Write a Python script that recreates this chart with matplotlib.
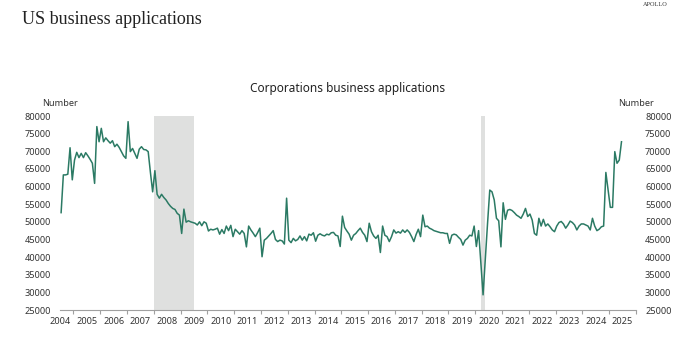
import matplotlib.pyplot as plt
import numpy as np

plt.rcParams['font.family'] = ['Noto Sans', 'DejaVu Sans']

# monthly values, corporations business applications (Jul 2004 - Jun 2025)
v2004 = [52600, 63300, 63300, 63500, 71000, 61900]
v2005 = [67500, 69700, 68200, 69400, 68200, 69600, 68700, 67700, 66600, 60900, 77000, 72700]
v2006 = [76500, 72700, 73800, 73000, 72300, 73000, 71300, 72000, 71100, 69900, 68700, 68000]
v2007 = [78400, 69900, 70800, 69400, 68000, 70600, 71300, 70500, 70400, 69900, 64000, 58500]
v2008 = [64500, 57800, 56700, 57800, 56900, 56200, 55200, 54400, 53800, 53500, 52400, 51900]
v2009 = [46700, 53600, 49900, 50300, 50000, 49800, 49600, 49100, 50000, 48900, 50000, 49600]
v2010 = [47400, 47900, 47700, 47900, 48200, 46500, 47800, 46700, 48800, 47500, 49000, 45800]
v2011 = [47900, 47200, 46500, 47500, 46700, 42900, 48800, 47700, 46800, 45800, 46900, 48200]
v2012 = [40100, 44800, 45300, 46000, 46700, 47500, 45000, 44400, 44800, 44600, 43700, 56700]
v2013 = [44800, 44100, 45300, 44600, 45000, 46000, 44800, 45800, 44600, 46500, 46200, 46900]
v2014 = [44500, 46200, 46600, 46200, 46000, 46500, 46300, 46900, 47000, 46200, 46000, 43000]
v2015 = [51600, 48400, 47400, 46500, 44800, 46200, 46700, 47500, 48200, 47000, 46200, 44400]
v2016 = [49600, 47200, 46000, 45300, 46200, 41300, 48800, 46200, 45800, 44400, 45800, 47700]
v2017 = [46800, 47200, 46800, 47700, 47000, 47700, 47000, 45800, 44400, 46400, 47900, 45800]
v2018 = [51900, 48600, 48800, 48200, 47900, 47500, 47300, 47100, 46900, 46900, 46700, 46700]
v2019 = [43900, 46200, 46500, 46300, 45600, 45000, 43400, 44800, 45300, 46200, 46000, 48800]
v2020 = [43000, 47500, 38500, 29300, 39500, 49500, 59000, 58500, 56200, 51000, 50300, 42900]
v2021 = [55400, 50700, 53300, 53500, 53200, 52600, 51900, 51500, 51000, 52200, 53800, 51500]
v2022 = [52200, 50500, 46700, 46200, 51000, 48800, 50700, 48800, 49400, 48600, 47700, 47200]
v2023 = [48800, 49800, 50100, 49400, 48200, 49100, 50200, 49800, 49100, 47700, 48800, 49400]
v2024 = [49400, 49100, 48800, 47700, 51000, 48800, 47500, 47900, 48600, 48800, 64000, 59000]
v2025 = [54100, 54100, 69900, 66600, 67500, 72700]

recessions = [(2008.0, 2009.5), (2020.2, 2020.35)]
years = list(range(2004, 2026))
yticks = list(range(25000, 80001, 5000))

values = (v2004 + v2005 + v2006 + v2007 + v2008 + v2009 + v2010 + v2011 + v2012
          + v2013 + v2014 + v2015 + v2016 + v2017 + v2018 + v2019 + v2020
          + v2021 + v2022 + v2023 + v2024 + v2025)
# mid-month positions in fractional years
t = 2004.5 + 1 / 24 + np.arange(len(values)) / 12

fig = plt.figure(figsize=(6.8, 3.38), dpi=100)
ax = fig.add_axes([60 / 680, 28 / 338, 576 / 680, 194 / 338])

for start, end in recessions:
    ax.axvspan(start, end, color='#dfe0df', lw=0, zorder=0)

ax.plot(t, values, color='#2b7a64', lw=1.1, zorder=2)

ax.set_xlim(2004.5, 2026.0)
ax.set_ylim(25000, 80000)

# year ticks at boundaries, labels in the middle of each year
ax.set_xticks(range(2005, 2027))
ax.set_xticklabels([])
ax.set_xticks([y + 0.5 for y in years], minor=True)
ax.set_xticklabels([str(y) for y in years], minor=True)
ax.tick_params(axis='x', which='major', length=3, width=0.8, color='#a0a0a0')
ax.tick_params(axis='x', which='minor', length=0, pad=5, labelsize=6.6, labelcolor='#333333')

ax.set_yticks(yticks)
ax.set_yticklabels([str(v) for v in yticks])
ax.tick_params(axis='y', left=False, right=False, labelleft=True, labelright=True,
               pad=3, labelsize=6.6, labelcolor='#333333')

for s in ['top', 'left', 'right']:
    ax.spines[s].set_visible(False)
ax.spines['bottom'].set_color('#a0a0a0')
ax.spines['bottom'].set_linewidth(0.8)

ax.text(0, 1.067, 'Number', transform=ax.transAxes, ha='center', va='center',
        fontsize=6.6, color='#333333')
ax.text(1, 1.067, 'Number', transform=ax.transAxes, ha='center', va='center',
        fontsize=6.6, color='#333333')
ax.text(0.5, 1.144, 'Corporations business applications', transform=ax.transAxes,
        ha='center', va='center', fontsize=8.5, color='#222222')

fig.text(22 / 680, 1 - 20 / 338, 'US business applications', family='Liberation Serif',
         fontsize=13, ha='left', va='center', color='#222222')
fig.text(668 / 680, 1 - 5 / 338, 'APOLLO', family='Liberation Serif', fontsize=4.5,
         ha='right', va='center', color='#333333')

plt.savefig('out.png', dpi=100)
